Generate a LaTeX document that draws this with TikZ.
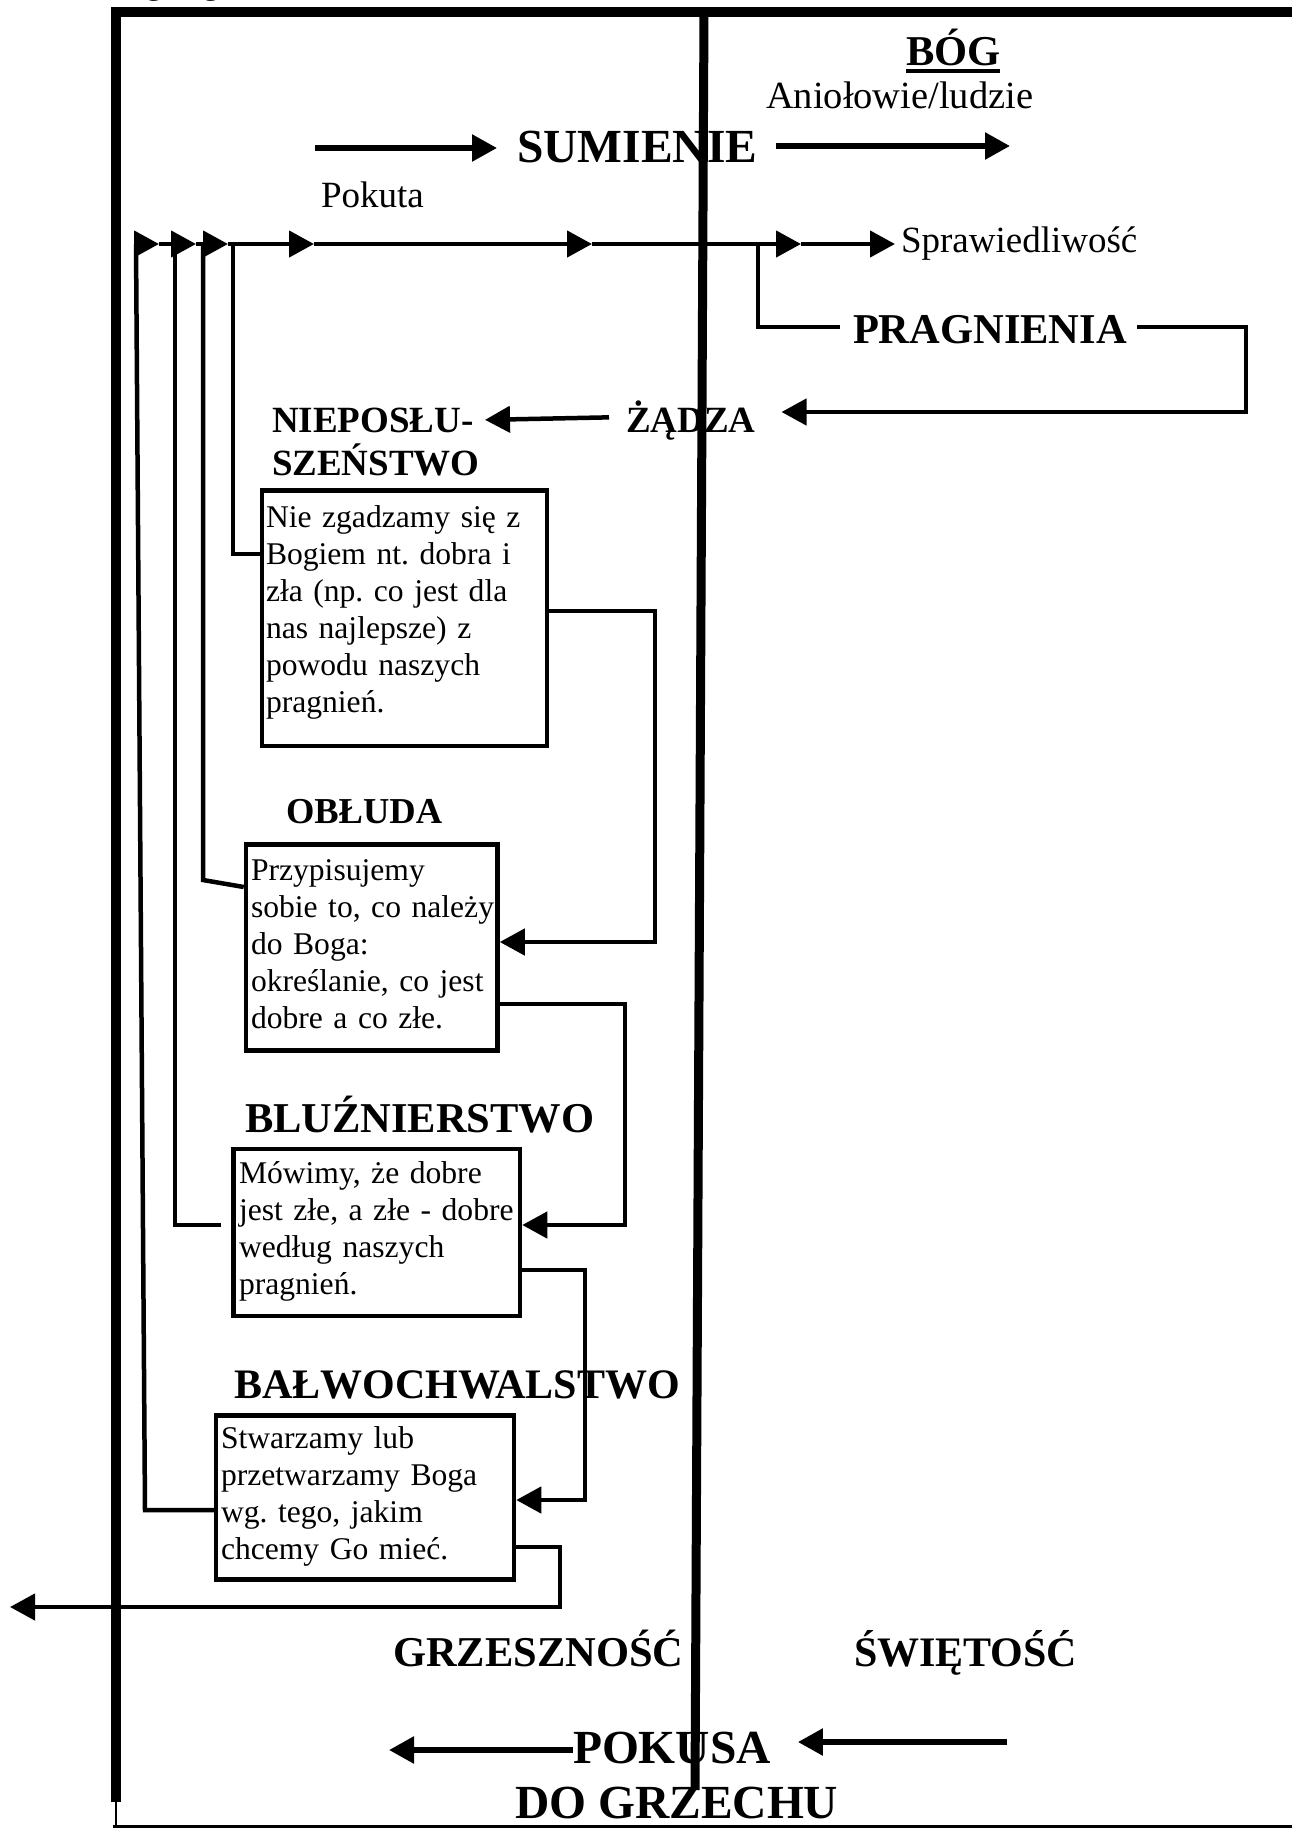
\documentclass[tikz,border=0pt]{standalone}
\usepackage{fontspec}
\setmainfont{Liberation Serif}
\frenchspacing
\usetikzlibrary{arrows.meta}
\tikzset{
  conn/.style={line width=4.5pt, line join=miter},
  arr/.style={conn, -{Triangle[length=25pt,width=26pt]}},
  barr/.style={line width=5.5pt, -{Triangle[length=25pt,width=26pt]}},
  frm/.style={line width=9.5pt, line join=miter},
  lbl/.style={inner sep=0pt, outer sep=0pt, anchor=base west},
  hdA/.style={lbl, font=\bfseries\fontsize{47.5}{55}\selectfont},
  hdB/.style={lbl, font=\bfseries\fontsize{42.5}{48}\selectfont},
  hdC/.style={lbl, font=\bfseries\fontsize{37}{43}\selectfont},
  rg/.style={lbl, font=\fontsize{37}{43}\selectfont},
  box/.style={draw, line width=4.5pt, inner sep=0pt, outer sep=2.25pt},
  boxtxt/.style={lbl, text width=290pt, align=left, font=\fontsize{31.6}{37}\selectfont},
}
\begin{document}
\begin{tikzpicture}[x=1pt,y=-1pt]
\useasboundingbox (0,0) rectangle (1292,1829);
\fill[white] (0,0) rectangle (1292,1829);

% cut-off text at the top edge
\node[lbl, font=\fontsize{32}{37}\selectfont] (g1) at (146,-6) {g};
\node[lbl, font=\fontsize{32}{37}\selectfont] (g2) at (203,-6) {g};

% labels
\node[hdA] (sum) at (517,162) {SUMIENIE};
\node[hdB] (bog) at (906,65) {BÓG};
\draw[line width=3.5pt] ([yshift=-6pt]bog.base west) -- ([yshift=-6pt]bog.base east);
\node[rg, font=\fontsize{38.5}{44}\selectfont] (ang) at (766,108) {Aniołowie/ludzie};
\node[rg] (pokuta) at (321,207) {Pokuta};
\node[rg] (spraw) at (901,252) {Sprawiedliwość};
\node[hdB] (prag) at (853,343) {PRAGNIENIA};
\node[hdC] (zadza) at (626,432) {ŻĄDZA};
\node[hdC, text width=207pt, align=left] (niep) at (272,432) {NIEPOSŁU-\\SZEŃSTWO};
\node[hdC, font=\bfseries\fontsize{36.5}{43}\selectfont] (obl) at (286,823) {OBŁUDA};
\node[hdB] (blu) at (245,1132) {BLUŹNIERSTWO};
\node[hdB, font=\bfseries\fontsize{42}{48}\selectfont] (bal) at (234,1398) {BAŁWOCHWALSTWO};
\node[hdB] (grz) at (393,1666) {GRZESZNOŚĆ};
\node[hdB, font=\bfseries\fontsize{42}{48}\selectfont] (swi) at (854,1666) {ŚWIĘTOŚĆ};
\node[hdA] (pok) at (573,1763) {POKUSA};
\node[hdA] (dog) at (515,1818) {DO GRZECHU};

% boxes
\node[box, minimum width=285pt, minimum height=255.5pt] (b1) at (404.5,618.25) {};
\node[box, minimum width=251.5pt, minimum height=206pt] (b2) at (371.75,947.5) {};
\node[box, minimum width=286.5pt, minimum height=167pt] (b3) at (376.75,1232.5) {};
\node[box, minimum width=298pt, minimum height=164pt] (b4) at (365,1497.5) {};

\node[boxtxt] (t1) at (266,527) {Nie zgadzamy się z\\Bogiem nt. dobra i\\zła (np. co jest dla\\nas najlepsze) z\\powodu naszych\\pragnień.};
\node[boxtxt] (t2) at (251,880) {Przypisujemy\\sobie to, co należy\\do Boga:\\określanie, co jest\\dobre a co złe.};
\node[boxtxt] (t3) at (239,1183) {Mówimy, że dobre\\jest złe, a złe - dobre\\według naszych\\pragnień.};
\node[boxtxt] (t4) at (221,1448) {Stwarzamy lub\\przetwarzamy Boga\\wg. tego, jakim\\chcemy Go mieć.};

% main trunk line with arrowheads
\coordinate (m0) at (136,244);
\coordinate (m1) at (159,244);
\coordinate (m2) at (196,244);
\coordinate (m3) at (228,244);
\coordinate (m4) at (314,244);
\coordinate (m5) at (592,244);
\coordinate (m6) at (801,244);
\coordinate (pj) at (758,244);
\draw[arr] (m0) -- (m1);
\draw[arr] (m1) -- (m2);
\draw[arr] (m2) -- (m3);
\draw[arr] (m3) -- (m4);
\draw[arr] (m4) -- (m5);
\draw[arr] (m5) -- (m6);
\draw[arr, shorten >=6pt] (m6) -- (spraw.west |- m6);

% left returns from boxes
\draw[conn] (b1.west |- 0,554) -- (233,554) -- (233,244);
\draw[conn] (b2.west |- 0,887) -- (203,880) -- (203,244);
\draw[conn, shorten <=10pt] (b3.west |- 0,1225) -- (175,1225) -- (175,244);
\draw[conn] (b4.west |- 0,1510) -- (145,1510) -- (m0);

% right chain between boxes
\draw[arr] (b1.east |- 0,611) -| (655,942) -- (b2.east |- 0,942);
\draw[arr] (b2.east |- 0,1004) -| (625,1225) -- (b3.east |- 0,1225);
\draw[arr] (b3.east |- 0,1270) -| (585,1500) -- (b4.east |- 0,1500);
\coordinate (out) at (10,1607);
\draw[arr] (b4.east |- 0,1547) -| (560,1607) -- (out);

% desires chain
\draw[conn, shorten >=13pt] (pj) |- (prag.west |- 0,327);
\draw[arr, shorten <=10pt, shorten >=26pt] (prag.east |- 0,327) -- (1246,327) -- (1246,412) -- (zadza.east |- 0,412);
\draw[arr, shorten <=17pt, shorten >=6pt] (zadza.west |- 0,417) -- (niep.east |- 0,420);

% conscience arrows
\coordinate (s0) at (315,148);
\coordinate (s2) at (1010,146);
\draw[barr, shorten >=20pt] (s0) -- (sum.west |- s0);
\draw[barr, shorten <=19pt] (sum.east |- s2) -- (s2);

% temptation arrows
\coordinate (pl) at (389,1750);
\coordinate (pr) at (1007,1742);
\draw[barr] (pok.west |- pl) -- (pl);
\draw[barr, shorten >=27pt] (pr) -- (pok.east |- pr);

% frame
\draw[frm] (116,1802) -- (116,12) -- (1300,12);
\draw[line width=1.5pt] (116,1800) -- (116,1827);
\draw[line width=3.5pt] (113,1826.5) -- (1300,1826.5);
\draw[line width=9pt] (704,12) -- (695,1790);
\end{tikzpicture}
\end{document}
